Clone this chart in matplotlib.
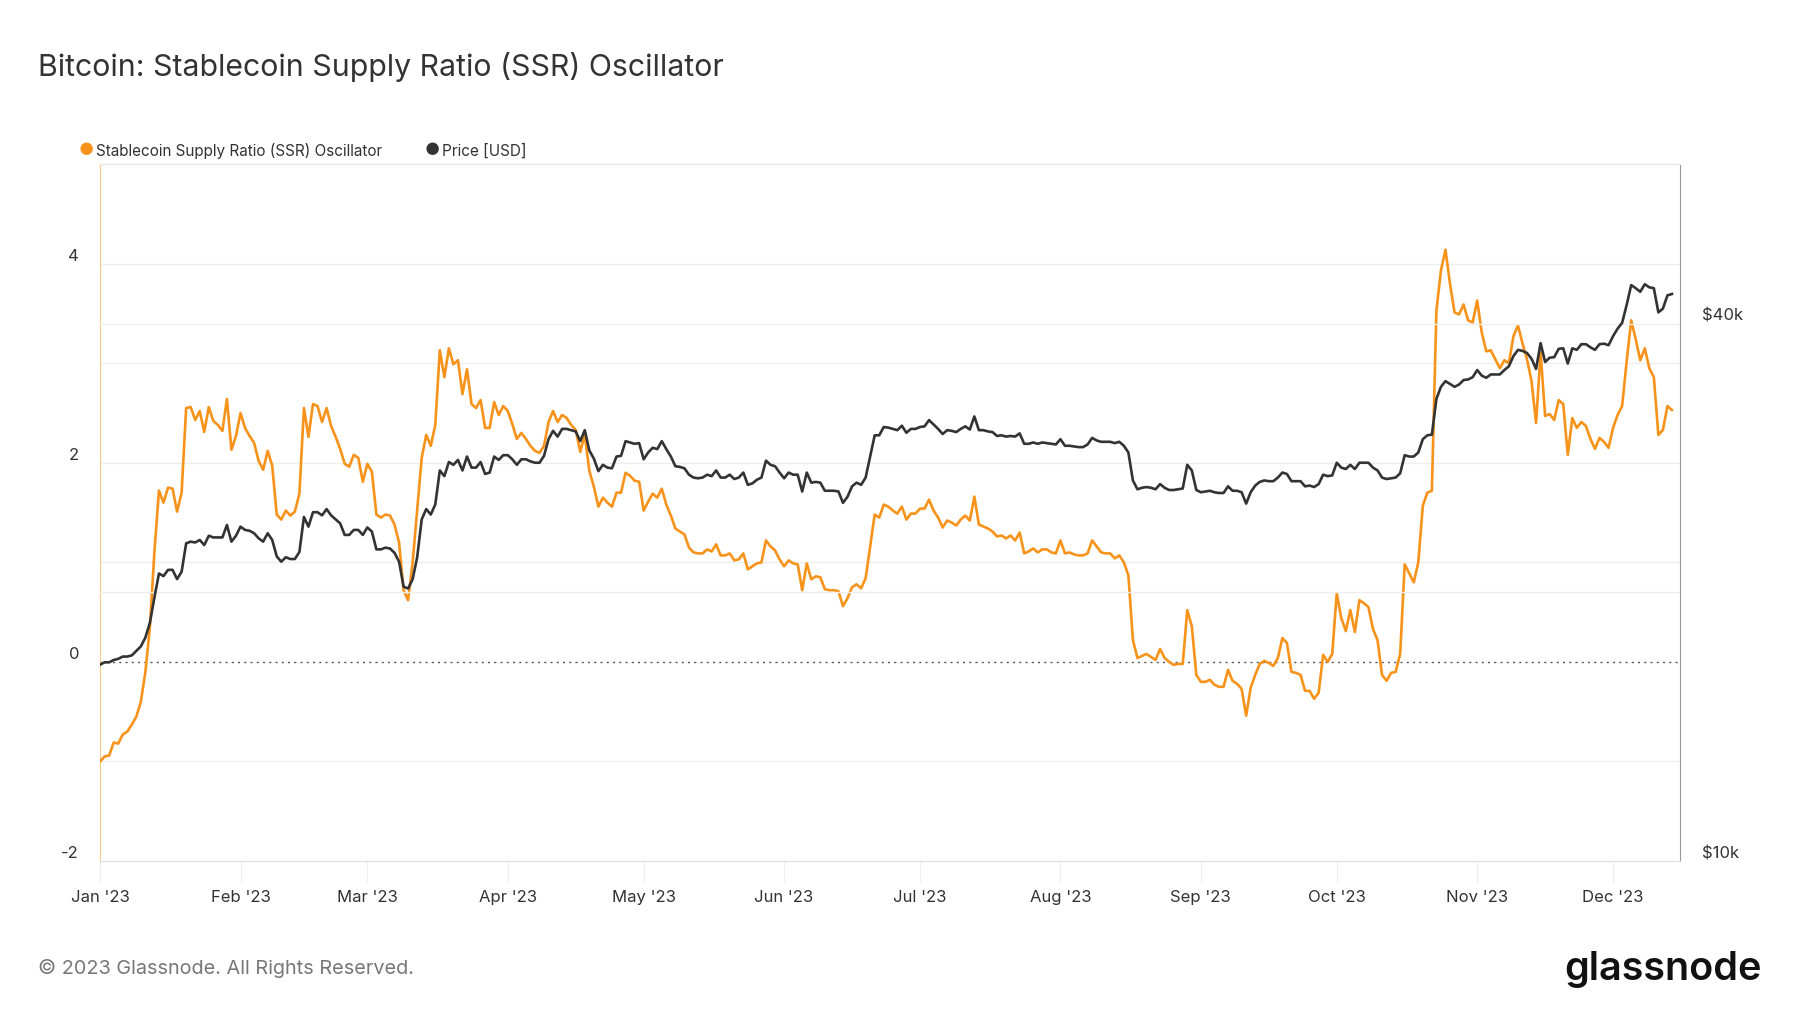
import matplotlib
matplotlib.use("Agg")
import matplotlib.pyplot as plt
import matplotlib.dates as mdates
from matplotlib.ticker import FixedLocator, NullLocator
import numpy as np
import pandas as pd

# daily values, 2023-01-01 .. 2023-12-14
dates = pd.date_range("2023-01-01", periods=348, freq="D")

ssr_osc = [
    -1.0, -0.95, -0.94, -0.81, -0.82, -0.73, -0.70, -0.63, -0.55, -0.40,
    -0.10, 0.35, 1.11, 1.72, 1.60, 1.75, 1.74, 1.51, 1.70, 2.55,
    2.56, 2.43, 2.52, 2.31, 2.56, 2.42, 2.38, 2.32, 2.64, 2.13,
    2.27, 2.50, 2.35, 2.27, 2.20, 2.02, 1.93, 2.12, 1.97, 1.48,
    1.43, 1.52, 1.47, 1.51, 1.69, 2.55, 2.26, 2.59, 2.57, 2.41,
    2.55, 2.37, 2.26, 2.14, 1.99, 1.96, 2.08, 2.05, 1.81, 1.99,
    1.91, 1.48, 1.45, 1.48, 1.47, 1.38, 1.20, 0.72, 0.62, 1.00,
    1.52, 2.05, 2.28, 2.17, 2.38, 3.13, 2.86, 3.15, 2.99, 3.03,
    2.69, 2.94, 2.59, 2.55, 2.63, 2.35, 2.35, 2.61, 2.48, 2.57,
    2.52, 2.39, 2.24, 2.30, 2.24, 2.17, 2.12, 2.10, 2.17, 2.41,
    2.52, 2.41, 2.48, 2.45, 2.38, 2.33, 2.11, 2.28, 1.92, 1.76,
    1.56, 1.65, 1.60, 1.56, 1.70, 1.70, 1.90, 1.87, 1.82, 1.81,
    1.52, 1.61, 1.69, 1.65, 1.74, 1.58, 1.47, 1.34, 1.31, 1.28,
    1.15, 1.10, 1.09, 1.09, 1.13, 1.11, 1.18, 1.07, 1.07, 1.09,
    1.02, 1.03, 1.09, 0.93, 0.96, 0.99, 1.00, 1.22, 1.16, 1.12,
    1.03, 0.96, 1.02, 0.99, 0.98, 0.72, 0.99, 0.83, 0.86, 0.85,
    0.73, 0.72, 0.72, 0.71, 0.56, 0.64, 0.75, 0.78, 0.74, 0.84,
    1.16, 1.48, 1.45, 1.58, 1.56, 1.52, 1.49, 1.56, 1.43, 1.49,
    1.49, 1.54, 1.54, 1.63, 1.52, 1.45, 1.35, 1.42, 1.40, 1.37,
    1.43, 1.47, 1.42, 1.66, 1.38, 1.36, 1.34, 1.31, 1.26, 1.27,
    1.24, 1.27, 1.22, 1.30, 1.09, 1.11, 1.14, 1.10, 1.13, 1.13,
    1.10, 1.09, 1.22, 1.09, 1.10, 1.08, 1.07, 1.07, 1.09, 1.22,
    1.16, 1.10, 1.09, 1.09, 1.04, 1.07, 1.00, 0.87, 0.22, 0.04,
    0.06, 0.08, 0.05, 0.02, 0.13, 0.04, 0.00, -0.03, -0.02, -0.02,
    0.52, 0.36, -0.13, -0.20, -0.20, -0.18, -0.23, -0.25, -0.25, -0.08,
    -0.19, -0.22, -0.27, -0.54, -0.26, -0.13, -0.02, 0.01, -0.01, -0.04,
    0.04, 0.24, 0.19, -0.10, -0.11, -0.13, -0.29, -0.29, -0.37, -0.31,
    0.07, 0.00, 0.08, 0.69, 0.44, 0.31, 0.52, 0.30, 0.62, 0.59,
    0.55, 0.33, 0.22, -0.13, -0.19, -0.11, -0.10, 0.08, 0.98, 0.89,
    0.80, 1.00, 1.57, 1.70, 1.72, 3.53, 3.93, 4.14, 3.80, 3.51,
    3.49, 3.59, 3.43, 3.41, 3.63, 3.31, 3.12, 3.13, 3.04, 2.95,
    3.03, 3.00, 3.27, 3.38, 3.20, 3.04, 2.82, 2.40, 3.11, 2.47,
    2.49, 2.43, 2.63, 2.59, 2.08, 2.45, 2.35, 2.41, 2.37, 2.24,
    2.14, 2.25, 2.21, 2.15, 2.35, 2.48, 2.57, 3.02, 3.43, 3.24,
    3.03, 3.15, 2.95, 2.86, 2.28, 2.33, 2.57, 2.53,
]

price_k = [
    16.6, 16.7, 16.7, 16.8, 16.85, 16.95, 16.95, 17.0, 17.2, 17.4,
    17.8, 18.5, 19.75, 21.0, 20.86, 21.2, 21.2, 20.7, 21.1, 22.7,
    22.8, 22.75, 22.9, 22.6, 23.15, 23.05, 23.05, 23.05, 23.8, 22.8,
    23.15, 23.7, 23.5, 23.45, 23.3, 23.0, 22.8, 23.3, 22.9, 21.95,
    21.65, 21.9, 21.8, 21.8, 22.2, 24.3, 23.7, 24.6, 24.6, 24.4,
    24.8, 24.4, 24.15, 23.9, 23.2, 23.2, 23.5, 23.5, 23.2, 23.65,
    23.4, 22.35, 22.35, 22.45, 22.4, 22.15, 21.65, 20.3, 20.2, 20.7,
    21.9, 24.15, 24.8, 24.45, 25.1, 27.4, 27.0, 28.0, 27.8, 28.15,
    27.4, 28.4, 27.6, 27.6, 28.0, 27.15, 27.25, 28.4, 28.15, 28.5,
    28.5, 28.2, 27.8, 28.2, 28.2, 28.05, 27.95, 27.95, 28.45, 29.7,
    30.35, 29.9, 30.5, 30.5, 30.4, 30.3, 29.55, 30.4, 28.85, 28.25,
    27.35, 27.8, 27.6, 27.55, 28.4, 28.45, 29.55, 29.45, 29.35, 29.4,
    28.2, 28.7, 29.05, 28.95, 29.55, 28.95, 28.4, 27.7, 27.65, 27.55,
    27.1, 26.9, 26.85, 26.9, 27.1, 27.0, 27.4, 26.9, 26.9, 27.1,
    26.8, 26.9, 27.25, 26.4, 26.5, 26.75, 26.9, 28.1, 27.8, 27.7,
    27.25, 26.85, 27.25, 27.1, 27.1, 25.95, 27.25, 26.55, 26.6, 26.55,
    26.0, 26.0, 26.0, 25.95, 25.2, 25.6, 26.3, 26.55, 26.4, 26.9,
    28.4, 30.0, 30.0, 30.65, 30.6, 30.5, 30.4, 30.75, 30.2, 30.5,
    30.5, 30.65, 30.7, 31.2, 30.85, 30.5, 30.1, 30.4, 30.35, 30.25,
    30.5, 30.7, 30.45, 31.5, 30.4, 30.4, 30.3, 30.25, 29.95, 30.0,
    29.9, 29.95, 29.9, 30.15, 29.35, 29.35, 29.45, 29.35, 29.45, 29.4,
    29.35, 29.3, 29.7, 29.2, 29.2, 29.15, 29.1, 29.1, 29.3, 29.8,
    29.6, 29.5, 29.5, 29.5, 29.4, 29.5, 29.2, 28.7, 26.7, 26.1,
    26.2, 26.25, 26.2, 26.1, 26.45, 26.2, 26.05, 26.05, 26.1, 26.15,
    27.8, 27.4, 26.05, 25.9, 25.95, 26.0, 25.9, 25.85, 25.85, 26.3,
    26.0, 26.0, 25.9, 25.15, 25.9, 26.35, 26.6, 26.7, 26.65, 26.65,
    26.9, 27.25, 27.15, 26.65, 26.65, 26.65, 26.3, 26.35, 26.25, 26.45,
    27.1, 27.0, 27.05, 27.95, 27.6, 27.5, 27.8, 27.5, 27.95, 27.95,
    27.95, 27.6, 27.4, 26.9, 26.8, 26.85, 26.9, 27.2, 28.5, 28.4,
    28.4, 28.7, 29.7, 30.0, 30.05, 32.95, 34.0, 34.5, 34.25, 34.0,
    34.2, 34.6, 34.65, 34.85, 35.5, 35.0, 34.8, 35.1, 35.1, 35.1,
    35.5, 35.85, 36.8, 37.4, 37.3, 37.1, 36.55, 35.6, 38.05, 36.25,
    36.65, 36.7, 37.5, 37.55, 36.1, 37.55, 37.4, 37.95, 37.95, 37.65,
    37.4, 37.95, 38.0, 37.85, 38.75, 39.5, 40.1, 42.0, 44.2, 43.85,
    43.45, 44.3, 43.95, 43.85, 41.2, 41.6, 43.05, 43.2,
]
price = np.array(price_k) * 1000

left_ticks = [-2, 0, 2, 4]
left_grid = [-1, 1, 2, 3, 4]
right_ticks = [10000, 40000]
right_labels = ["$10k", "$40k"]
right_grid = [20000, 40000]

ORANGE = "#f7931a"
DARK = "#333333"
GRID = "#eeeeee"

plt.rcParams["font.family"] = ["Inter", "DejaVu Sans"]

fig = plt.figure(figsize=(18, 10.13), dpi=100)
ax = fig.add_axes([0.0556, 0.150, 0.8778, 0.688])
ax2 = ax.twinx()

x0 = pd.Timestamp("2023-01-01")
x1 = x0 + pd.Timedelta(days=348.8)

# grid lines
for g in left_grid:
    ax.axhline(g, color=GRID, lw=1.0, zorder=0)
for g in right_grid:
    ax2.axhline(g, color=GRID, lw=1.0, zorder=0)
ax.axhline(0, color="#555555", lw=1.0, ls=(0, (1.5, 3)), zorder=1)

ax.plot(dates, ssr_osc, color=ORANGE, lw=1.9, zorder=3)
ax2.plot(dates, price, color=DARK, lw=1.9, zorder=3)

ax.set_xlim(x0, x1)
ax.set_ylim(-2, 5)
ax2.set_yscale("log")
ax2.set_ylim(10000, 60400)

ax.yaxis.set_major_locator(FixedLocator(left_ticks))
ax.set_yticklabels([str(t) for t in left_ticks])
ax2.yaxis.set_major_locator(FixedLocator(right_ticks))
ax2.yaxis.set_minor_locator(NullLocator())
ax2.set_yticklabels(right_labels)

ax.xaxis.set_major_locator(mdates.MonthLocator())
ax.xaxis.set_major_formatter(mdates.DateFormatter("%b '%y"))

ax.tick_params(axis="y", length=0, pad=15, labelsize=12, labelcolor=DARK)
ax2.tick_params(axis="y", length=0, pad=16, labelsize=12, labelcolor=DARK)
ax.tick_params(axis="x", length=15, width=0.8, color="#eeeeee", pad=6,
               labelsize=12, labelcolor=DARK)
for lab in ax.get_yticklabels() + ax2.get_yticklabels():
    lab.set_verticalalignment("bottom")

for a in (ax, ax2):
    a.spines["top"].set_color("#e6e6e6")
    a.spines["bottom"].set_color("#e0e0e0")
    a.spines["left"].set_visible(False)
    a.spines["right"].set_visible(False)
ax.spines["left"].set_visible(True)
ax.spines["left"].set_color("#fbc98a")
ax2.spines["right"].set_visible(True)
ax2.spines["right"].set_color("#999999")

# legend
fig.text(0.0478, 0.851, "\u25cf", color=ORANGE, fontsize=12, va="center", ha="center")
fig.text(0.0535, 0.851, "Stablecoin Supply Ratio (SSR) Oscillator", color=DARK,
         fontsize=11, va="center")
fig.text(0.240, 0.851, "\u25cf", color=DARK, fontsize=12, va="center", ha="center")
fig.text(0.2458, 0.851, "Price [USD]", color=DARK, fontsize=11, va="center")

fig.text(0.021, 0.934, "Bitcoin: Stablecoin Supply Ratio (SSR) Oscillator",
         color=DARK, fontsize=21.8, va="center")
fig.text(0.021, 0.044, "\u00a9 2023 Glassnode. All Rights Reserved.",
         color="#777777", fontsize=14.3, va="center")
fig.text(0.979, 0.043, "glassnode", color="#111111", fontsize=28.5,
         fontweight="semibold", ha="right", va="center")

fig.savefig("out.png", dpi=100, facecolor="white")
